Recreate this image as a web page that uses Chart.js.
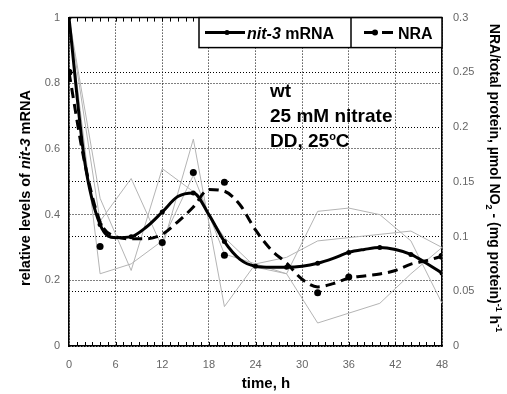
<!DOCTYPE html>
<html>
<head>
<meta charset="utf-8">
<script src="https://cdn.jsdelivr.net/npm/chart.js@4.4.1/dist/chart.umd.min.js"></script>
<style>
  html, body { margin: 0; background: #fff; }
  #wrap { width: 507px; height: 394px; }
</style>
</head>
<body>
<div id="wrap"><canvas id="nitChart"></canvas></div>
<script>
// smoothed time courses, sampled every 2 h
const hours = [0, 2, 4, 6, 8, 10, 12, 14, 16, 18, 20, 22, 24, 26, 28, 30, 32, 34, 36, 38, 40, 42, 44, 46, 48];
const mrnaLevel = [1.0, 0.565, 0.37, 0.33, 0.333, 0.363, 0.408, 0.455, 0.466, 0.40, 0.318, 0.264, 0.243, 0.24, 0.24, 0.243, 0.252, 0.267, 0.285, 0.294, 0.30, 0.294, 0.279, 0.252, 0.222];
const nraActivity = [0.25, 0.168, 0.1135, 0.100, 0.098, 0.098, 0.102, 0.1135, 0.127, 0.143, 0.1414, 0.129, 0.106, 0.088, 0.0757, 0.061, 0.054, 0.057, 0.062, 0.064, 0.0658, 0.069, 0.0748, 0.078, 0.082];

// measured NRA means
const nraHours = [0, 4, 12, 16, 20, 20, 32, 36, 48];
const nraMeasured = [0.25, 0.091, 0.0946, 0.1586, 0.1495, 0.0829, 0.0486, 0.063, 0.082];

// single experiments (relative mRNA)
const repHours = [0, 4, 8, 12, 16, 20, 24, 28, 32, 36, 40, 44, 48];
const rep1 = [1.0, 0.22, 0.25, 0.32, 0.52, 0.28, 0.25, 0.22, 0.41, 0.42, 0.40, 0.32, 0.13];
const rep2 = [1.0, 0.38, 0.51, 0.30, 0.63, 0.12, 0.25, 0.27, 0.32, 0.33, 0.34, 0.35, 0.30];
const rep3 = [1.0, 0.45, 0.23, 0.54, 0.47, 0.33, 0.24, 0.22, 0.07, 0.10, 0.13, 0.22, 0.30];

const xTicks = [0, 6, 12, 18, 24, 30, 36, 42, 48];

const pts = (xs, ys) => xs.map((x, i) => ({ x: x, y: ys[i] }));
const tickFont = { family: "'Liberation Sans', Arial", size: 11 };
const BOLD = "'Liberation Sans', Arial, sans-serif";
const gridLine = { color: '#000', lineWidth: 1, drawTicks: false };
const frame = { color: '#000', width: 1.5, dash: [1, 2] };

function repLine(values) {
  return {
    data: pts(repHours, values),
    yAxisID: 'y',
    borderColor: '#b4b4b4',
    borderWidth: 1,
    pointRadius: 0,
    tension: 0
  };
}

// draws text pieces one after another: [text, fontSize, italic, dy]
function drawRuns(ctx, runs, x, y) {
  let cx = x;
  runs.forEach(r => {
    ctx.font = (r[2] ? 'italic ' : '') + 'bold ' + r[1] + 'px ' + BOLD;
    ctx.fillText(r[0], cx, y + (r[3] || 0));
    cx += ctx.measureText(r[0]).width;
  });
  return cx - x;
}
function runsWidth(ctx, runs) {
  let w = 0;
  runs.forEach(r => {
    ctx.font = (r[2] ? 'italic ' : '') + 'bold ' + r[1] + 'px ' + BOLD;
    w += ctx.measureText(r[0]).width;
  });
  return w;
}

const decor = {
  id: 'decor',
  afterDraw(chart) {
    const ctx = chart.ctx;
    const a = chart.chartArea;
    const xs = chart.scales.x;
    ctx.save();

    // top frame line
    ctx.strokeStyle = '#000';
    ctx.lineWidth = 1.5;
    ctx.beginPath();
    ctx.moveTo(a.left, a.top);
    ctx.lineTo(a.right, a.top);
    ctx.stroke();

    // hourly minor ticks on bottom and top
    ctx.lineWidth = 1;
    for (let h = 1; h < 48; h++) {
      const px = Math.round(xs.getPixelForValue(h)) + 0.5;
      ctx.beginPath();
      ctx.moveTo(px, a.bottom);
      ctx.lineTo(px, a.bottom - 4);
      ctx.moveTo(px, a.top);
      ctx.lineTo(px, a.top + 4);
      ctx.stroke();
    }

    // legend box
    const lx = 199, ly = a.top, lw = a.right - 199, lh = 30, split = 351;
    ctx.fillStyle = '#fff';
    ctx.fillRect(lx, ly, lw, lh);
    ctx.lineWidth = 1.5;
    ctx.strokeRect(lx, ly, lw, lh);
    ctx.beginPath();
    ctx.moveTo(split, ly);
    ctx.lineTo(split, ly + lh);
    ctx.stroke();

    const my = ly + 15;
    ctx.fillStyle = '#000';
    ctx.lineWidth = 3;
    ctx.beginPath();
    ctx.moveTo(205, my);
    ctx.lineTo(245, my);
    ctx.stroke();
    ctx.beginPath();
    ctx.arc(227, my, 2.5, 0, Math.PI * 2);
    ctx.fill();
    ctx.beginPath();
    ctx.moveTo(364, my);
    ctx.lineTo(374, my);
    ctx.moveTo(382, my);
    ctx.lineTo(393, my);
    ctx.stroke();
    ctx.beginPath();
    ctx.arc(375, my, 3, 0, Math.PI * 2);
    ctx.fill();

    ctx.textBaseline = 'alphabetic';
    ctx.textAlign = 'left';
    drawRuns(ctx, [['nit-3', 16, true], [' mRNA', 16, false]], 247, my + 6);
    drawRuns(ctx, [['NRA', 16, false]], 398, my + 6);

    // condition labels
    drawRuns(ctx, [['wt', 19]], 270, 97);
    drawRuns(ctx, [['25 mM nitrate', 19]], 270, 122);
    drawRuns(ctx, [['DD, 25', 19], ['o', 11, false, -7], ['C', 19]], 270, 147);

    // x title
    ctx.font = 'bold 15px ' + BOLD;
    ctx.textAlign = 'center';
    ctx.fillText('time, h', 266, 388);

    // left title, bottom to top
    const leftRuns = [['relative levels of ', 14.5], ['nit-3', 14.5, true], [' mRNA', 14.5]];
    ctx.save();
    ctx.translate(30, 188);
    ctx.rotate(-Math.PI / 2);
    ctx.textAlign = 'left';
    drawRuns(ctx, leftRuns, -runsWidth(ctx, leftRuns) / 2, 0);
    ctx.restore();

    // right title, top to bottom
    const rightRuns = [
      ['NRA/total protein, \u00b5mol NO', 14], ['2', 9, false, 4], [' - (mg protein)', 14],
      ['-1', 9, false, -6], [' h', 14], ['-1', 9, false, -6]
    ];
    ctx.save();
    ctx.translate(490, 178);
    ctx.rotate(Math.PI / 2);
    ctx.textAlign = 'left';
    drawRuns(ctx, rightRuns, -runsWidth(ctx, rightRuns) / 2, 0);
    ctx.restore();

    ctx.restore();
  }
};

new Chart(document.getElementById('nitChart'), {
  type: 'line',
  data: {
    datasets: [
      {
        type: 'scatter',
        data: pts(nraHours, nraMeasured),
        yAxisID: 'y1',
        pointRadius: 3.5,
        pointBackgroundColor: '#000',
        pointBorderWidth: 0,
        showLine: false
      },
      {
        data: pts(hours, mrnaLevel),
        yAxisID: 'y',
        borderColor: '#000',
        borderWidth: 3,
        cubicInterpolationMode: 'monotone',
        pointRadius: c => (c.dataIndex % 2 === 0 ? 2.5 : 0),
        pointBackgroundColor: '#000',
        pointBorderWidth: 0
      },
      {
        data: pts(hours, nraActivity),
        yAxisID: 'y1',
        borderColor: '#000',
        borderWidth: 3,
        borderDash: [10, 6],
        cubicInterpolationMode: 'monotone',
        pointRadius: 0
      },
      repLine(rep1),
      repLine(rep2),
      repLine(rep3)
    ]
  },
  options: {
    responsive: true,
    maintainAspectRatio: false,
    animation: false,
    layout: { padding: { top: 13, left: 0, right: 0, bottom: 0 } },
    plugins: { legend: { display: false }, tooltip: { enabled: false } },
    scales: {
      x: {
        type: 'linear',
        min: 0,
        max: 48,
        afterBuildTicks: s => { s.ticks = xTicks.map(v => ({ value: v })); },
        afterFit: s => { s.height = 48; },
        ticks: { color: '#666', font: tickFont, padding: 12, maxRotation: 0 },
        grid: gridLine,
        border: frame
      },
      y: {
        position: 'left',
        min: 0,
        max: 1,
        afterFit: s => { s.width = 69; },
        ticks: { stepSize: 0.2, color: '#666', font: tickFont, padding: 9, callback: v => +v.toFixed(2) },
        grid: gridLine,
        border: frame
      },
      y1: {
        position: 'right',
        min: 0,
        max: 0.3,
        afterFit: s => { s.width = 65; },
        ticks: { stepSize: 0.05, color: '#666', font: tickFont, padding: 11, callback: v => +v.toFixed(2) },
        grid: gridLine,
        border: frame
      }
    }
  },
  plugins: [decor]
});
</script>
</body>
</html>
